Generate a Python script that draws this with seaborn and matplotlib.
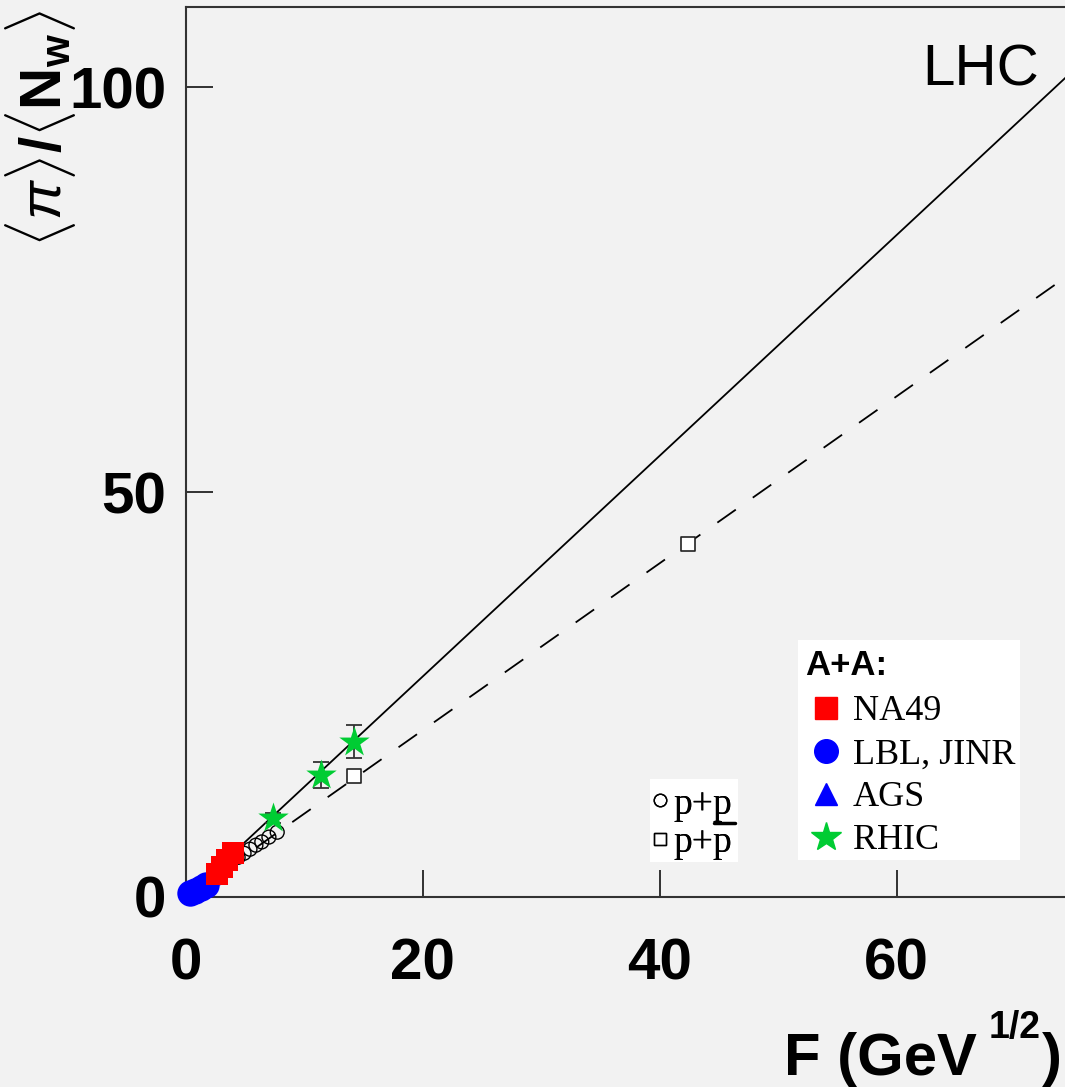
import numpy as np
import pandas as pd
import matplotlib
matplotlib.use("Agg")
import matplotlib.pyplot as plt
import seaborn as sns
from matplotlib.lines import Line2D
from matplotlib.patches import Rectangle

# ---------------- data ----------------
na49_F = [2.6, 3.05, 3.5, 3.95]
na49_y = [2.85, 3.7, 4.55, 5.4]
lbl_F = [0.35, 0.8, 1.25, 1.7]
lbl_y = [0.5, 0.8, 1.15, 1.5]
ags_F = [1.9, 2.15, 2.4]
ags_y = [2.3, 2.65, 3.0]
rhic_F = [7.35, 11.4, 14.15]
rhic_y = [9.75, 15.1, 19.2]
rhic_err = [0.6, 1.6, 2.0]
pp_F = [4.4, 4.9, 5.4, 5.9, 6.4, 7.0, 7.7]
pp_y = [4.9, 5.4, 5.9, 6.4, 6.8, 7.4, 8.0]
ppbar_F = [14.2, 42.4]
ppbar_y = [14.9, 43.6]
fit_F = [0.0, 75.0]
fit_aa_y = [0.0, 102.2]
fit_pp_y = [0.0, 77.3]
x_ticks = [0, 20, 40, 60]
y_ticks = [0, 50, 100]

BG = "#f2f2f2"
RED = "#ff0000"
BLUE = "#0000ff"
GREEN = "#00cc33"

sns.set_theme(style="ticks")
plt.rcParams["font.family"] = ["Liberation Sans", "DejaVu Sans"]
plt.rcParams["text.color"] = "black"
plt.rcParams["xtick.color"] = "black"
plt.rcParams["ytick.color"] = "black"
plt.rcParams["mathtext.fontset"] = "custom"
plt.rcParams["mathtext.rm"] = "Liberation Sans"
plt.rcParams["mathtext.bf"] = "Liberation Sans:bold"
plt.rcParams["mathtext.it"] = "Liberation Sans:italic"

W, H = 1065, 1087
fig = plt.figure(figsize=(W / 100, H / 100), dpi=100, facecolor=BG)
ax = fig.add_axes([186 / W, 190 / H, 1 - 186 / W, (897 - 7) / H])
ax.set_facecolor(BG)

# fit lines
ax.plot(fit_F, fit_aa_y, color="black", lw=1.3, zorder=2)
ax.plot(fit_F, fit_pp_y, color="black", lw=1.3, linestyle=(0, (12.5, 11.5)), zorder=2)

# p+p open circles
sns.scatterplot(x=pp_F, y=pp_y, ax=ax, marker="o", s=10**2, facecolor="none",
                edgecolor="black", linewidth=1.0, zorder=3, clip_on=False)
# p+pbar open squares
sns.scatterplot(x=ppbar_F, y=ppbar_y, ax=ax, marker="s", s=10.5**2, facecolor="white",
                edgecolor="#222222", linewidth=1.2, zorder=3, clip_on=False)
# AGS triangles (mostly hidden)
sns.scatterplot(x=ags_F, y=ags_y, ax=ax, marker="^", s=13**2, color=BLUE,
                edgecolor=BLUE, linewidth=0, zorder=3, clip_on=False)
# LBL, JINR circles
sns.scatterplot(x=lbl_F, y=lbl_y, ax=ax, marker="o", s=19**2, color=BLUE,
                edgecolor=BLUE, linewidth=0, zorder=4, clip_on=False)
# NA49 squares
sns.scatterplot(x=na49_F, y=na49_y, ax=ax, marker="s", s=16**2, color=RED,
                edgecolor=RED, linewidth=0, zorder=5, clip_on=False)
# RHIC stars with error bars
ax.errorbar(rhic_F, rhic_y, yerr=rhic_err, fmt="none", ecolor="#333333",
            elinewidth=1.3, capsize=5.8, capthick=1.3, zorder=5)
sns.scatterplot(x=rhic_F, y=rhic_y, ax=ax, marker="*", s=23**2, color=GREEN,
                edgecolor=GREEN, linewidth=0, zorder=6, clip_on=False)

ax.set_xlim(0, 74.2)
ax.set_ylim(0, 109.9)
ax.set_xticks(x_ticks)
ax.set_yticks(y_ticks)
ax.set_xticklabels([str(t) for t in x_ticks])
ax.set_yticklabels([str(t) for t in y_ticks])
ax.tick_params(axis="both", direction="in", length=19.5, width=1.3, color="#222222",
               labelsize=42, labelcolor="black")
ax.tick_params(axis="x", pad=29)
ax.tick_params(axis="y", pad=14)
for lab in ax.get_xticklabels() + ax.get_yticklabels():
    lab.set_fontweight("bold")
for side in ["left", "bottom", "top"]:
    ax.spines[side].set_color("#333333")
    ax.spines[side].set_linewidth(1.5)
ax.spines["right"].set_visible(False)
ax.set_xlabel("")
ax.set_ylabel("")

# x-axis label (pieces so the exponent sits like the reference)
fig.text(977 / W, 1 - 1075 / H, "F (GeV", ha="right", va="baseline",
         fontsize=43, fontweight="bold", color="black")
fig.text(989 / W, 1 - 1038 / H, "1/2", ha="left", va="baseline",
         fontsize=27, fontweight="bold", color="black")
fig.text(1042 / W, 1 - 1075 / H, ")", ha="left", va="baseline",
         fontsize=43, fontweight="bold", color="black")
# y-axis label
fig.text(3 / W, 1 - 9 / H, r"$\langle\pi\rangle\mathbf{/}\langle\mathbf{N_w}\rangle$",
         rotation=90, ha="left", va="top", fontsize=42, color="black")

# LHC label
ax.text(922 / W, 1 - 85 / H, "LHC", transform=fig.transFigure, ha="left",
        va="baseline", fontsize=42, color="black")

# A+A legend box
ax.add_patch(Rectangle((798 / W, 1 - 860 / H), (1020 - 798) / W, (860 - 640) / H,
                       transform=fig.transFigure, facecolor="white", edgecolor="none",
                       zorder=8, clip_on=False))
ax.text(805 / W, 1 - 675 / H, "A+A:", transform=fig.transFigure, ha="left",
        va="baseline", fontsize=25, fontweight="bold", zorder=10, color="black")
handles = [
    Line2D([], [], linestyle="none", marker="s", ms=16.5, color=RED, mec=RED),
    Line2D([], [], linestyle="none", marker="o", ms=17, color=BLUE, mec=BLUE),
    Line2D([], [], linestyle="none", marker="^", ms=16, color=BLUE, mec=BLUE),
    Line2D([], [], linestyle="none", marker="*", ms=22, color=GREEN, mec=GREEN),
]
leg = ax.legend(handles, ["NA49", "LBL, JINR", "AGS", "RHIC"], loc="upper left",
                bbox_to_anchor=(813 / W, 1 - 695 / H), bbox_transform=fig.transFigure,
                frameon=False, borderaxespad=0, borderpad=0, handlelength=0.7,
                handletextpad=0.4, labelspacing=0.27,
                prop={"family": "Liberation Serif", "size": 26})
for t in leg.get_texts():
    t.set_color("black")
leg.set_zorder(10)
ax.add_artist(leg)

# p+p legend box
ax.add_patch(Rectangle((650 / W, 1 - 862 / H), (738 - 650) / W, (862 - 779) / H,
                       transform=fig.transFigure, facecolor="white", edgecolor="none",
                       zorder=8, clip_on=False))
handles2 = [
    Line2D([], [], linestyle="none", marker="o", ms=9, mfc="none", mec="black", mew=1.0),
    Line2D([], [], linestyle="none", marker="s", ms=9, mfc="none", mec="black", mew=1.0),
]
leg2 = ax.legend(handles2, ["p+p", "p+p"], loc="upper left",
                 bbox_to_anchor=(652 / W, 1 - 787 / H), bbox_transform=fig.transFigure,
                 frameon=False, borderaxespad=0, borderpad=0, handlelength=0.45,
                 handletextpad=0.12, labelspacing=0.1,
                 prop={"family": "Liberation Serif", "size": 27})
for t in leg2.get_texts():
    t.set_color("black")
leg2.set_zorder(10)
ax.add_artist(leg2)
ax.add_line(Line2D([714 / W, 735 / W], [1 - 823 / H, 1 - 823 / H], transform=fig.transFigure,
                   color="black", lw=2.5, zorder=11, clip_on=False))

fig.savefig("out.png", dpi=100, facecolor=BG)
